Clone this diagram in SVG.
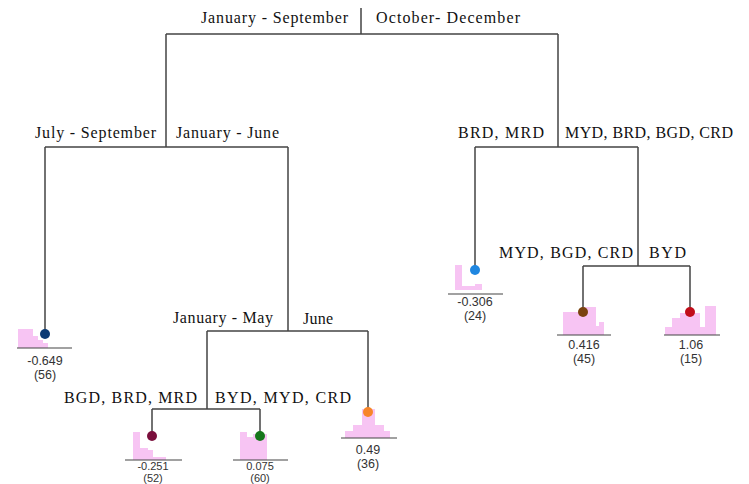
<svg xmlns="http://www.w3.org/2000/svg" width="749" height="484" viewBox="0 0 749 484">
<style>
.edge{fill:none;stroke:#444;stroke-width:1.5}
.lbl{font-family:"Liberation Serif","Times New Roman",serif;font-size:16px;fill:#111}
.val{font-family:"Liberation Sans",Arial,sans-serif;font-size:12.5px;fill:#333;text-anchor:middle}
.sm{font-size:11px}
.bar{fill:#f7c4f3}
.base{stroke:#444;stroke-width:1.2}
</style>
<rect width="749" height="484" fill="#fff"/>
<g id="connectors">
<path class="edge" d="M361,8V34M166,34H558"/>
<path class="edge" d="M166,34V147M45,147H288M45,147V334"/>
<path class="edge" d="M288,147V331M207,331H368M368,331V412"/>
<path class="edge" d="M207,331V409M152,409H260M152,409V436M260,409V436"/>
<path class="edge" d="M558,34V147M475,147H638M475,147V270"/>
<path class="edge" d="M638,147V266M583,266H690M583,266V312M690,266V312"/>
</g>
<g id="split-labels">
<text class="lbl" x="201" y="23" textLength="147" lengthAdjust="spacing">January - September</text>
<text class="lbl" x="376" y="23" textLength="144" lengthAdjust="spacing">October- December</text>
<text class="lbl" x="35" y="138" textLength="121" lengthAdjust="spacing">July - September</text>
<text class="lbl" x="176" y="138" textLength="103" lengthAdjust="spacing">January - June</text>
<text class="lbl" x="458" y="138" textLength="86" lengthAdjust="spacing">BRD, MRD</text>
<text class="lbl" x="565" y="138" textLength="168" lengthAdjust="spacing">MYD, BRD, BGD, CRD</text>
<text class="lbl" x="499" y="258" textLength="134" lengthAdjust="spacing">MYD, BGD, CRD</text>
<text class="lbl" x="649" y="258" textLength="37" lengthAdjust="spacing">BYD</text>
<text class="lbl" x="173" y="323" textLength="100" lengthAdjust="spacing">January - May</text>
<text class="lbl" x="303" y="324" textLength="30" lengthAdjust="spacing">June</text>
<text class="lbl" x="64" y="403" textLength="133" lengthAdjust="spacing">BGD, BRD, MRD</text>
<text class="lbl" x="215" y="403" textLength="136" lengthAdjust="spacing">BYD, MYD, CRD</text>
</g>
<g id="leaf-1">
<rect class="bar" x="18" y="329" width="15" height="19"/>
<rect class="bar" x="33" y="336" width="5" height="12"/>
<rect class="bar" x="38" y="340" width="5" height="8"/>
<rect class="bar" x="43" y="343" width="5" height="5"/>
<line class="base" x1="17" y1="348" x2="72" y2="348"/>
<circle cx="45" cy="334" r="5" fill="#0c3b74"/>
<text class="val" x="45" y="365">-0.649</text>
<text class="val" x="45" y="379">(56)</text>
</g>
<g id="leaf-2">
<rect class="bar" x="133" y="432" width="7" height="28"/>
<rect class="bar" x="140" y="448" width="8" height="12"/>
<rect class="bar" x="148" y="450" width="5" height="10"/>
<rect class="bar" x="153" y="457" width="13" height="3"/>
<line class="base" x1="125" y1="460" x2="182" y2="460"/>
<circle cx="152" cy="436" r="5" fill="#7a0f3c"/>
<text class="val sm" x="153" y="470">-0.251</text>
<text class="val sm" x="153" y="482">(52)</text>
</g>
<g id="leaf-3">
<rect class="bar" x="240" y="432" width="7" height="28"/>
<rect class="bar" x="247" y="437" width="6" height="23"/>
<rect class="bar" x="253" y="434" width="14" height="26"/>
<line class="base" x1="233" y1="460" x2="288" y2="460"/>
<circle cx="260" cy="436" r="5" fill="#17761c"/>
<text class="val sm" x="260" y="470">0.075</text>
<text class="val sm" x="260" y="482">(60)</text>
</g>
<g id="leaf-4">
<rect class="bar" x="345" y="431" width="45" height="7"/>
<rect class="bar" x="353" y="425" width="31" height="13"/>
<rect class="bar" x="362" y="409" width="13" height="29"/>
<line class="base" x1="341" y1="438" x2="397" y2="438"/>
<circle cx="368" cy="412" r="5" fill="#f7862a"/>
<text class="val" x="368" y="454">0.49</text>
<text class="val" x="368" y="468">(36)</text>
</g>
<g id="leaf-5">
<rect class="bar" x="455" y="265" width="7" height="25"/>
<rect class="bar" x="462" y="286" width="20" height="4"/>
<rect class="bar" x="475" y="284" width="7" height="6"/>
<line class="base" x1="448" y1="294" x2="503" y2="294"/>
<circle cx="475" cy="270" r="5" fill="#1f86e0"/>
<text class="val" x="475" y="306">-0.306</text>
<text class="val" x="475" y="320">(24)</text>
</g>
<g id="leaf-6">
<rect class="bar" x="563" y="312" width="20" height="23"/>
<rect class="bar" x="583" y="307" width="13" height="28"/>
<rect class="bar" x="596" y="326" width="3" height="9"/>
<rect class="bar" x="599" y="322" width="5" height="13"/>
<line class="base" x1="557" y1="335" x2="611" y2="335"/>
<circle cx="583" cy="312" r="5" fill="#7a420f"/>
<text class="val" x="584" y="349">0.416</text>
<text class="val" x="584" y="363">(45)</text>
</g>
<g id="leaf-7">
<rect class="bar" x="665" y="327" width="7" height="8"/>
<rect class="bar" x="672" y="318" width="8" height="17"/>
<rect class="bar" x="680" y="313" width="20" height="22"/>
<rect class="bar" x="700" y="327" width="5" height="8"/>
<rect class="bar" x="705" y="306" width="11" height="29"/>
<line class="base" x1="664" y1="335" x2="720" y2="335"/>
<circle cx="690" cy="312" r="5" fill="#c10d1a"/>
<text class="val" x="691" y="349">1.06</text>
<text class="val" x="691" y="363">(15)</text>
</g>
</svg>
